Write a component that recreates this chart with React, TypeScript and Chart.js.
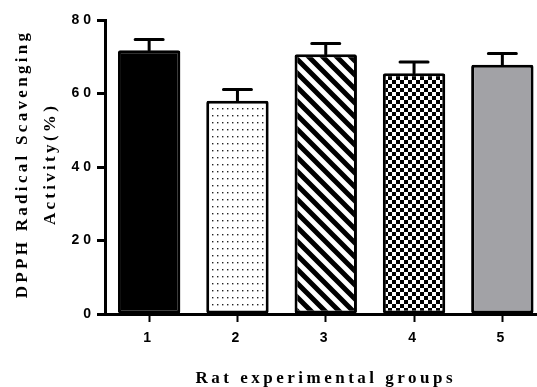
import React, { useEffect, useRef } from "react";
import { Chart, registerables } from "chart.js";

Chart.register(...registerables);

const categories = ["1", "2", "3", "4", "5"];
const values = [71.8, 58.0, 70.7, 65.5, 67.8];
const errors = [2.9, 3.1, 2.9, 3.1, 3.1];
const yTitleLines = ["DPPH Radical Scavenging", "Activity(%)"];
const xTitle = "Rat experimental groups";

function makePattern(kind: string): CanvasPattern | string {
  const c = document.createElement("canvas");
  const g = c.getContext("2d")!;
  if (kind === "dots") {
    c.width = 5; c.height = 7;
    g.fillStyle = "#fff"; g.fillRect(0, 0, 5, 7);
    g.fillStyle = "#222"; g.fillRect(2, 3, 1.4, 1.4);
  } else if (kind === "stripes") {
    const n = 14;
    c.width = n; c.height = n;
    g.fillStyle = "#fff"; g.fillRect(0, 0, n, n);
    g.strokeStyle = "#000"; g.lineWidth = 5;
    g.beginPath();
    g.moveTo(-4, -4); g.lineTo(n + 4, n + 4);
    g.moveTo(-4, n - 4); g.lineTo(4, n + 4);
    g.moveTo(n - 4, -4); g.lineTo(n + 4, 4);
    g.stroke();
  } else if (kind === "checker") {
    c.width = 8; c.height = 8;
    g.fillStyle = "#fff"; g.fillRect(0, 0, 8, 8);
    g.fillStyle = "#000"; g.fillRect(0, 0, 4, 4); g.fillRect(4, 4, 4, 4);
  }
  return g.createPattern(c, "repeat")!;
}

const errorBarPlugin = {
  id: "errorBars",
  afterDatasetsDraw(chart: any) {
    const ctx = chart.ctx;
    const meta = chart.getDatasetMeta(0);
    const y = chart.scales.y;
    ctx.save();
    ctx.strokeStyle = "#000";
    ctx.lineWidth = 3;
    ctx.lineCap = "round";
    meta.data.forEach((bar: any, i: number) => {
      const x = bar.x;
      const top = y.getPixelForValue(values[i]);
      const hi = y.getPixelForValue(values[i] + errors[i]);
      ctx.beginPath();
      ctx.moveTo(x, top);
      ctx.lineTo(x, hi);
      ctx.moveTo(x - 14, hi);
      ctx.lineTo(x + 14, hi);
      ctx.stroke();
    });
    ctx.restore();
  },
};

const titlePlugin = {
  id: "titles",
  beforeDraw(chart: any) {
    (chart.ctx as any).letterSpacing = "4px";
  },
  afterDraw(chart: any) {
    const ctx = chart.ctx;
    const area = chart.chartArea;
    ctx.save();
    (ctx as any).letterSpacing = "3.3px";
    ctx.fillStyle = "#000";
    ctx.font = "bold 17px 'Liberation Serif', serif";
    ctx.textAlign = "center";
    ctx.textBaseline = "alphabetic";
    const cy = (area.top + area.bottom) / 2 - 3;
    const baselines = [27, 55];
    yTitleLines.forEach((line, i) => {
      ctx.save();
      ctx.translate(baselines[i], cy);
      ctx.rotate(-Math.PI / 2);
      ctx.fillText(line, 0, 0);
      ctx.restore();
    });
    (ctx as any).letterSpacing = "3.5px";
    ctx.fillText(xTitle, (area.left + area.right) / 2, 383);
    ctx.restore();
    (ctx as any).letterSpacing = "0px";
  },
};

export default function App() {
  const ref = useRef<HTMLCanvasElement>(null);
  useEffect(() => {
    const canvas = ref.current!;
    const fills = ["#000000", makePattern("dots"), makePattern("stripes"), makePattern("checker"), "#a2a2a6"];
    const tickFont = { family: "'Liberation Sans', Arial, sans-serif", weight: "bold" as const, size: 14 };
    const chart = new Chart(canvas, {
      type: "bar",
      data: {
        labels: categories,
        datasets: [
          {
            data: values,
            backgroundColor: fills as any,
            borderColor: "#000",
            borderWidth: 3,
            borderSkipped: false,
            borderRadius: 2,
            barPercentage: 0.707,
            categoryPercentage: 1,
          },
        ],
      },
      options: {
        responsive: false,
        animation: false,
        devicePixelRatio: 1,
        layout: { padding: { left: 0, top: 20, right: 13.5, bottom: 0 } },
        plugins: { legend: { display: false }, tooltip: { enabled: false }, title: { display: false } },
        scales: {
          x: {
            type: "category",
            offset: true,
            grid: { display: true, drawOnChartArea: false, drawTicks: true, tickLength: 8, tickWidth: 2, tickColor: "#000", offset: false },
            border: { display: true, width: 3, color: "#000" },
            ticks: { color: "#000", font: tickFont, padding: 8, maxRotation: 0 },
            afterFit(s: any) { s.height = 73; },
          },
          y: {
            min: 0,
            max: 80,
            grid: { display: true, drawOnChartArea: false, drawTicks: true, tickLength: 8, tickWidth: 3, tickColor: "#000" },
            border: { display: true, width: 3, color: "#000" },
            ticks: { stepSize: 20, color: "#000", font: tickFont, padding: 2 },
            afterFit(s: any) { s.width = 105; },
          },
        },
      },
      plugins: [errorBarPlugin, titlePlugin],
    });
    return () => chart.destroy();
  }, []);
  return (
    <div style={{ position: "fixed", left: 0, top: 0, width: 537, height: 387, overflow: "hidden", background: "#fff" }}>
      <canvas ref={ref} width={560} height={387} style={{ display: "block", width: 560, height: 387 }} />
    </div>
  );
}
